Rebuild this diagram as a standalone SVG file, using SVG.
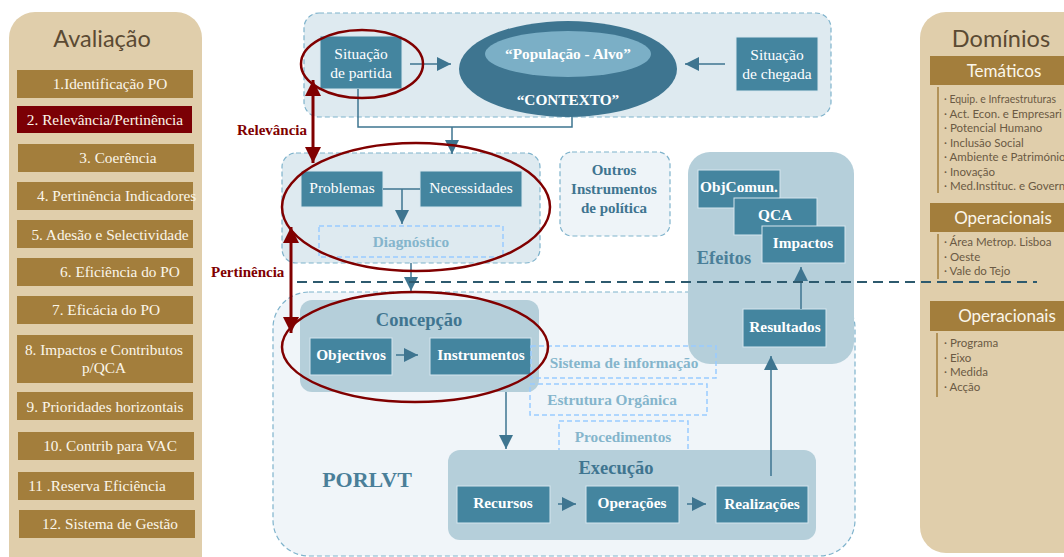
<svg xmlns="http://www.w3.org/2000/svg" width="1064" height="557" viewBox="0 0 1064 557">
<style>
  .panel { fill: #e0ceab; }
  .ptitle { font-family: "Lato", "Open Sans", sans-serif; font-size: 23.5px; fill: #5b4a33; }
  .item { fill: #a37e3c; }
  .itemtx { font-family: "Liberation Serif", serif; font-size: 15.3px; fill: #fbf6ea; }
  .band { fill: #a37e3c; }
  .bandtx { font-family: "Lato", "Open Sans", sans-serif; font-size: 17px; fill: #fbf6ea; }
  .dom { font-family: "Lato", "Open Sans", sans-serif; font-size: 11.5px; fill: #6b5a44; }
  .vline { stroke: #a37e3c; stroke-width: 1.5; }
  .zone { fill: #deeaf0; stroke: #7fb3cc; stroke-width: 1.2; stroke-dasharray: 5 3; }
  .zone2 { fill: #f0f5f9; stroke: #7fb3cc; stroke-width: 1.2; stroke-dasharray: 5 3; }
  .solid { fill: #b5cfda; }
  .box { fill: #44859f; stroke: #d5e6ee; stroke-width: 1; }
  .bt { font-family: "Liberation Serif", serif; font-size: 15.5px; fill: #ffffff; text-anchor: middle; }
  .bb { font-family: "Liberation Serif", serif; font-size: 15.3px; font-weight: bold; fill: #ffffff; text-anchor: middle; }
  .hd { font-family: "Liberation Serif", serif; font-weight: bold; fill: #3f7590; text-anchor: middle; }
  .dash { fill: none; stroke: #99ccff; stroke-width: 1.5; stroke-dasharray: 5 3; }
  .dtx { font-family: "Liberation Serif", serif; font-size: 15.3px; font-weight: bold; fill: #85b5cc; text-anchor: middle; }
  .conn { fill: none; stroke: #3e7590; stroke-width: 1.5; }
  .red { fill: none; stroke: #800000; stroke-width: 2.5; }
  .redtx { font-family: "Liberation Serif", serif; font-size: 15px; font-weight: bold; fill: #800000; }
</style>
<defs>
  <marker id="ahb" viewBox="0 0 10 10" refX="10" refY="5" markerWidth="14" markerHeight="14" orient="auto-start-reverse" markerUnits="userSpaceOnUse">
    <path d="M0,0 L10,5 L0,10 z" fill="#3e7590"/>
  </marker>
  <marker id="ahr" viewBox="0 0 10 10" refX="10" refY="5" markerWidth="16" markerHeight="16" orient="auto-start-reverse" markerUnits="userSpaceOnUse">
    <path d="M0,0 L10,5 L0,10 z" fill="#800000"/>
  </marker>
</defs>

<!-- Avaliação panel -->
<g id="avaliacao">
  <rect class="panel" x="9" y="12" width="193" height="570" rx="26"/>
  <text class="ptitle" x="102" y="47" text-anchor="middle">Avaliação</text>
  <rect class="item" x="17" y="70" width="176" height="28"/>
  <text class="itemtx" x="110" y="89" text-anchor="middle">1.Identificação PO</text>
  <rect x="17" y="106" width="175" height="27" fill="#7b0005"/>
  <text class="itemtx" x="105" y="125" text-anchor="middle">2. Relevância/Pertinência</text>
  <rect class="item" x="18" y="144" width="176" height="28"/>
  <text class="itemtx" x="118" y="163" text-anchor="middle">3. Coerência</text>
  <rect class="item" x="17" y="182" width="176" height="28"/>
  <text class="itemtx" x="37" y="201">4. Pertinência Indicadores</text>
  <rect class="item" x="17" y="220" width="176" height="28"/>
  <text class="itemtx" x="110" y="240" text-anchor="middle">5. Adesão e Selectividade</text>
  <rect class="item" x="17" y="258" width="176" height="28"/>
  <text class="itemtx" x="120" y="277" text-anchor="middle">6. Eficiência do PO</text>
  <rect class="item" x="17" y="296" width="176" height="28"/>
  <text class="itemtx" x="106" y="315" text-anchor="middle">7. Eficácia do PO</text>
  <rect class="item" x="17" y="335" width="176" height="48"/>
  <text class="itemtx" x="104" y="355" text-anchor="middle">8. Impactos e Contributos</text>
  <text class="itemtx" x="104" y="373" text-anchor="middle">p/QCA</text>
  <rect class="item" x="17" y="392" width="176" height="28"/>
  <text class="itemtx" x="105" y="412" text-anchor="middle">9. Prioridades horizontais</text>
  <rect class="item" x="18" y="432" width="176" height="28"/>
  <text class="itemtx" x="110" y="451" text-anchor="middle">10. Contrib para VAC</text>
  <rect class="item" x="18" y="472" width="176" height="28"/>
  <text class="itemtx" x="97" y="491" text-anchor="middle">11 .Reserva Eficiência</text>
  <rect class="item" x="19" y="510" width="176" height="28"/>
  <text class="itemtx" x="110" y="529" text-anchor="middle">12. Sistema de Gestão</text>
</g>

<!-- Domínios panel -->
<g id="dominios">
  <rect class="panel" x="920" y="12" width="180" height="541" rx="26"/>
  <text class="ptitle" x="1001" y="47" text-anchor="middle">Domínios</text>
  <rect class="band" x="930" y="56" width="140" height="29"/>
  <text class="bandtx" x="1004" y="77" text-anchor="middle">Temáticos</text>
  <line class="vline" x1="938" y1="87" x2="938" y2="193"/>
  <text class="dom" x="944" y="103" textLength="112" lengthAdjust="spacingAndGlyphs">· Equip. e Infraestruturas</text>
  <text class="dom" x="944" y="117.5">· Act. Econ. e Empresari</text>
  <text class="dom" x="944" y="132">· Potencial Humano</text>
  <text class="dom" x="944" y="146.5">· Inclusão Social</text>
  <text class="dom" x="944" y="161">· Ambiente e Património</text>
  <text class="dom" x="944" y="175.5">· Inovação</text>
  <text class="dom" x="944" y="190">· Med.Instituc. e Govern</text>
  <rect class="band" x="930" y="203" width="140" height="29"/>
  <text class="bandtx" x="1003" y="224" text-anchor="middle">Operacionais</text>
  <line class="vline" x1="938" y1="234" x2="938" y2="279"/>
  <text class="dom" x="944" y="246">· Área Metrop. Lisboa</text>
  <text class="dom" x="944" y="260.5">· Oeste</text>
  <text class="dom" x="944" y="275">· Vale do Tejo</text>
  <rect class="band" x="930" y="301" width="140" height="30"/>
  <text class="bandtx" x="1007" y="322" text-anchor="middle">Operacionais</text>
  <line class="vline" x1="937" y1="333" x2="937" y2="397"/>
  <text class="dom" x="944" y="347">· Programa</text>
  <text class="dom" x="944" y="361.5">· Eixo</text>
  <text class="dom" x="944" y="376">· Medida</text>
  <text class="dom" x="944" y="390.5">· Acção</text>
</g>

<!-- Context zone -->
<g id="contexto">
  <rect class="zone" x="304" y="13" width="527" height="104" rx="15"/>
  <ellipse cx="568" cy="69" rx="109" ry="48" fill="#3e7590"/>
  <ellipse cx="568" cy="54" rx="83" ry="23" fill="#7bafc6"/>
  <text class="bb" x="568" y="59" font-size="15.3">“População - Alvo”</text>
  <text class="bb" x="568" y="105" font-size="15.5">“CONTEXTO”</text>
</g>
<g id="situacao-partida">
  <rect class="box" x="320" y="36" width="82" height="53"/>
  <text class="bt" x="361" y="59">Situação</text>
  <text class="bt" x="361" y="78">de partida</text>
</g>
<g id="situacao-chegada">
  <rect class="box" x="736" y="37" width="82" height="54"/>
  <text class="bt" x="777" y="60">Situação</text>
  <text class="bt" x="777" y="79">de chegada</text>
</g>

<!-- Diagnosis zone -->
<g id="diagnostico-zona">
  <rect class="zone" x="282" y="153" width="258" height="110" rx="14"/>
</g>
<g id="problemas">
  <rect class="box" x="301" y="171" width="82" height="36"/>
  <text class="bt" x="342" y="193">Problemas</text>
</g>
<g id="necessidades">
  <rect class="box" x="420" y="171" width="102" height="36"/>
  <text class="bt" x="471" y="193">Necessidades</text>
</g>
<g id="diagnostico">
  <rect class="dash" x="319" y="226" width="184" height="31"/>
  <text class="dtx" x="411" y="247">Diagnóstico</text>
</g>

<g id="outros">
  <rect class="zone2" x="560" y="152" width="110" height="84" rx="12" style="fill:#eef4f8"/>
  <text class="hd" x="614" y="175" font-size="15">Outros</text>
  <text class="hd" x="614" y="194" font-size="15">Instrumentos</text>
  <text class="hd" x="614" y="213" font-size="15">de política</text>
</g>

<!-- PORLVT zone -->
<g id="porlvt">
  <rect class="zone2" x="273" y="292" width="582" height="264" rx="36"/>
  <text class="hd" x="367" y="487" font-size="22" style="fill:#4a7f99">PORLVT</text>
</g>

<!-- Effects -->
<g id="efeitos">
  <rect class="solid" x="688" y="152" width="166" height="212" rx="22"/>
  <text class="hd" x="724" y="264" font-size="18.5" style="fill:#4a7f99">Efeitos</text>
</g>
<g id="objcomun">
  <rect class="box" x="698" y="170" width="82" height="38"/>
  <text class="bb" x="739" y="192">ObjComun.</text>
</g>
<g id="qca">
  <rect class="box" x="734" y="198" width="83" height="37"/>
  <text class="bb" x="775" y="220">QCA</text>
</g>
<g id="impactos">
  <rect class="box" x="762" y="226" width="83" height="37"/>
  <text class="bb" x="803" y="248">Impactos</text>
</g>
<g id="resultados">
  <rect class="box" x="743" y="309" width="83" height="38"/>
  <text class="bb" x="785" y="332">Resultados</text>
</g>

<!-- Design -->
<g id="concepcao">
  <rect class="solid" x="300" y="300" width="239" height="92" rx="12"/>
  <text class="hd" x="419" y="326" font-size="18.5">Concepção</text>
</g>
<g id="objectivos">
  <rect class="box" x="310" y="338" width="82" height="37"/>
  <text class="bb" x="351" y="360">Objectivos</text>
</g>
<g id="instrumentos">
  <rect class="box" x="430" y="338" width="101" height="37"/>
  <text class="bb" x="481" y="360">Instrumentos</text>
</g>

<g id="sistema-informacao">
  <rect class="dash" x="531" y="346" width="185" height="32"/>
  <text class="dtx" x="624" y="368">Sistema de informação</text>
</g>
<g id="estrutura-organica">
  <rect class="dash" x="530" y="384" width="177" height="31"/>
  <text class="dtx" x="612" y="405">Estrutura Orgânica</text>
</g>
<g id="procedimentos">
  <rect class="dash" x="559" y="421" width="129" height="31"/>
  <text class="dtx" x="623" y="442">Procedimentos</text>
</g>

<!-- Execution -->
<g id="execucao">
  <rect class="solid" x="448" y="450" width="368" height="90" rx="12"/>
  <text class="hd" x="616" y="474" font-size="18.5">Execução</text>
</g>
<g id="recursos">
  <rect class="box" x="457" y="486" width="93" height="37"/>
  <text class="bb" x="503" y="508">Recursos</text>
</g>
<g id="operacoes">
  <rect class="box" x="586" y="486" width="93" height="37"/>
  <text class="bb" x="632" y="508">Operações</text>
</g>
<g id="realizacoes">
  <rect class="box" x="716" y="486" width="92" height="37"/>
  <text class="bb" x="762" y="509">Realizações</text>
</g>

<!-- Connectors -->
<g id="connectors">
  <line class="conn" x1="410" y1="64" x2="451" y2="64" marker-end="url(#ahb)"/>
  <line class="conn" x1="725" y1="64" x2="685" y2="64" marker-end="url(#ahb)"/>
  <polyline class="conn" points="358,89 358,127 572,127 572,116"/>
  <line class="conn" x1="452" y1="127" x2="452" y2="154" marker-end="url(#ahb)"/>
  <line class="conn" x1="383" y1="189" x2="420" y2="189"/>
  <line class="conn" x1="402" y1="189" x2="402" y2="224" marker-end="url(#ahb)"/>
  <line class="conn" x1="411" y1="263" x2="411" y2="291" marker-end="url(#ahb)"/>
  <line class="conn" x1="396" y1="355" x2="418" y2="355" marker-end="url(#ahb)"/>
  <line class="conn" x1="506" y1="392" x2="506" y2="449" marker-end="url(#ahb)"/>
  <line class="conn" x1="558" y1="504" x2="576" y2="504" marker-end="url(#ahb)"/>
  <line class="conn" x1="687" y1="504" x2="706" y2="504" marker-end="url(#ahb)"/>
  <line class="conn" x1="771" y1="476" x2="771" y2="356" marker-end="url(#ahb)"/>
  <line class="conn" x1="801" y1="309" x2="801" y2="267" marker-end="url(#ahb)"/>
  <line x1="297" y1="282" x2="1037" y2="282" stroke="#2d5a6e" stroke-width="2" stroke-dasharray="10 6"/>
  <!-- relevance / pertinence links -->
  <line x1="313" y1="80" x2="313" y2="163" stroke="#800000" stroke-width="3" marker-start="url(#ahr)" marker-end="url(#ahr)"/>
  <line x1="291" y1="227" x2="291" y2="333" stroke="#800000" stroke-width="3" marker-start="url(#ahr)" marker-end="url(#ahr)"/>
  <text class="redtx" x="237" y="135">Relevância</text>
  <text class="redtx" x="211" y="277">Pertinência</text>
  <ellipse class="red" cx="362" cy="64" rx="61" ry="34"/>
  <ellipse class="red" cx="416" cy="207" rx="134" ry="64"/>
  <ellipse class="red" cx="415" cy="347" rx="133" ry="55"/>
</g>
</svg>
